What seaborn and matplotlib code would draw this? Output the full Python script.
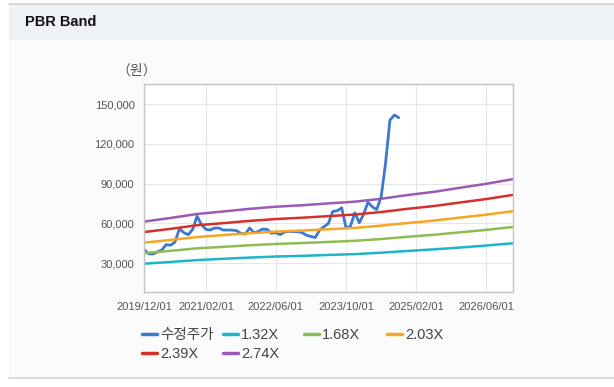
import numpy as np
import pandas as pd
import matplotlib.pyplot as plt
import matplotlib.dates as mdates
import seaborn as sns
from matplotlib.patches import Rectangle
from matplotlib.lines import Line2D
from matplotlib.ticker import FuncFormatter

sns.set_theme(style="whitegrid")
plt.rcParams['font.family'] = ['Liberation Sans', 'Noto Sans CJK KR', 'DejaVu Sans']

# 수정주가 (월별, 2019/12 ~ 2024/10)
price_dates = pd.date_range("2019-12-01", "2024-10-01", freq="MS")
price = [40000, 37000, 37000, 38500, 40000, 44000, 43500, 46000, 56000, 53000,
         51500, 55500, 65500, 59000, 55500, 55000, 56500, 56500, 55000, 55000,
         55000, 54500, 52500, 52000, 56500, 53000, 54000, 55700, 55500, 52600,
         53000, 51500, 53500, 54000, 53800, 53800, 53000, 51000, 50100, 49300,
         55000, 57500, 60000, 69000, 69500, 71800, 56500, 58000, 68000, 60500,
         67000, 76000, 72500, 70500, 80000, 105000, 138000, 141800, 139800]

# PBR 밴드 (반기, 2019/12 ~ 2026/12)
band_dates = pd.date_range("2019-12-01", "2026-12-01", freq="6MS")
band_132 = [29600, 30900, 32300, 33300, 34200, 35000, 35500, 36200, 36800, 37900, 39200, 40400, 41800, 43300, 45000]
band_168 = [37600, 39300, 41200, 42300, 43500, 44500, 45200, 46000, 46900, 48200, 49900, 51400, 53300, 55100, 57300]
band_203 = [45500, 47500, 49700, 51200, 52600, 53800, 54600, 55600, 56600, 58300, 60300, 62100, 64400, 66600, 69200]
band_239 = [53500, 55900, 58600, 60200, 61900, 63300, 64300, 65500, 66700, 68600, 71000, 73100, 75800, 78400, 81500]
band_274 = [61400, 64100, 67100, 69000, 71000, 72600, 73700, 75100, 76400, 78600, 81400, 83800, 86900, 89900, 93400]

tick_dates = ["2019-12-01", "2021-02-01", "2022-06-01", "2023-10-01", "2025-02-01", "2026-06-01"]

series = [
    ("수정주가", price_dates, price, "#3b78cf"),
    ("1.32X", band_dates, band_132, "#1fb5c9"),
    ("1.68X", band_dates, band_168, "#8dbd52"),
    ("2.03X", band_dates, band_203, "#f5a623"),
    ("2.39X", band_dates, band_239, "#d6302b"),
    ("2.74X", band_dates, band_274, "#9b59b6"),
]

fig = plt.figure(figsize=(6.14, 3.87), dpi=100)
fig.patch.set_facecolor("white")

# 패널 배경 / 헤더
fig.patches.append(Rectangle((9 / 614, 1 - 378 / 387), 605 / 614, 374 / 387,
                             transform=fig.transFigure, facecolor="#fbfbfc",
                             edgecolor="none", zorder=-2))
fig.patches.append(Rectangle((9 / 614, 1 - 40 / 387), 605 / 614, 36 / 387,
                             transform=fig.transFigure, facecolor="#eef2f7",
                             edgecolor="none", zorder=-1))
fig.add_artist(Line2D([9 / 614, 1], [1 - 4 / 387] * 2, color="#d3d3d3", lw=1.2))
fig.add_artist(Line2D([9 / 614, 1], [1 - 378 / 387] * 2, color="#d3d3d3", lw=1.2))
fig.text(25 / 614, 1 - 22 / 387, "PBR Band", fontsize=10.5, fontweight="bold",
         va="center", ha="left", color="#111111")

ax = fig.add_axes([144.3 / 614, 1 - 292.3 / 387, 368.4 / 614, 208 / 387])
ax.set_facecolor("white")

for name, d, v, c in series:
    sns.lineplot(x=d, y=v, ax=ax, color=c, linewidth=1.8 if name != "수정주가" else 2.0,
                 label=name, legend=False)

ax.set_xlim(pd.Timestamp("2019-12-01"), pd.Timestamp("2026-12-01"))
ax.set_ylim(8000, 165000)
ax.set_yticks([30000, 60000, 90000, 120000, 150000])
ax.yaxis.set_major_formatter(FuncFormatter(lambda v, p: f"{int(v):,}"))
ax.set_xticks([pd.Timestamp(t) for t in tick_dates])
ax.xaxis.set_major_formatter(mdates.DateFormatter("%Y/%m/%d"))
ax.tick_params(axis="both", labelsize=8, colors="#555555", length=4, width=0.8,
               direction="out", pad=3)
ax.tick_params(axis="both", color="#bbbbbb")
ax.grid(True, color="#e6e6e6", linewidth=0.8)
for s in ax.spines.values():
    s.set_color("#c4c4c4")
    s.set_linewidth(1.0)
ax.set_xlabel("")
ax.set_ylabel("")
ax.text(-0.02, 1.065, "（원）", transform=ax.transAxes, fontsize=10,
        color="#555555", ha="center", va="center")

# 범례 (4열 고정 간격)
cols = [[0, 4], [1, 5], [2], [3]]
col_x = [142, 223, 304, 387]
for idx, x0 in zip(cols, col_x):
    handles = [Line2D([], [], color=series[i][3], lw=2.5) for i in idx]
    labels = [series[i][0] for i in idx]
    leg = fig.legend(handles, labels, loc="upper left",
                     bbox_to_anchor=(x0 / 614, 1 - 328 / 387), frameon=False,
                     fontsize=10.5, handlelength=1.0, handletextpad=0.25,
                     labelspacing=0.35, borderaxespad=0, borderpad=0)
    for t in leg.get_texts():
        t.set_color("#444444")

fig.savefig("out.png", dpi=100)
